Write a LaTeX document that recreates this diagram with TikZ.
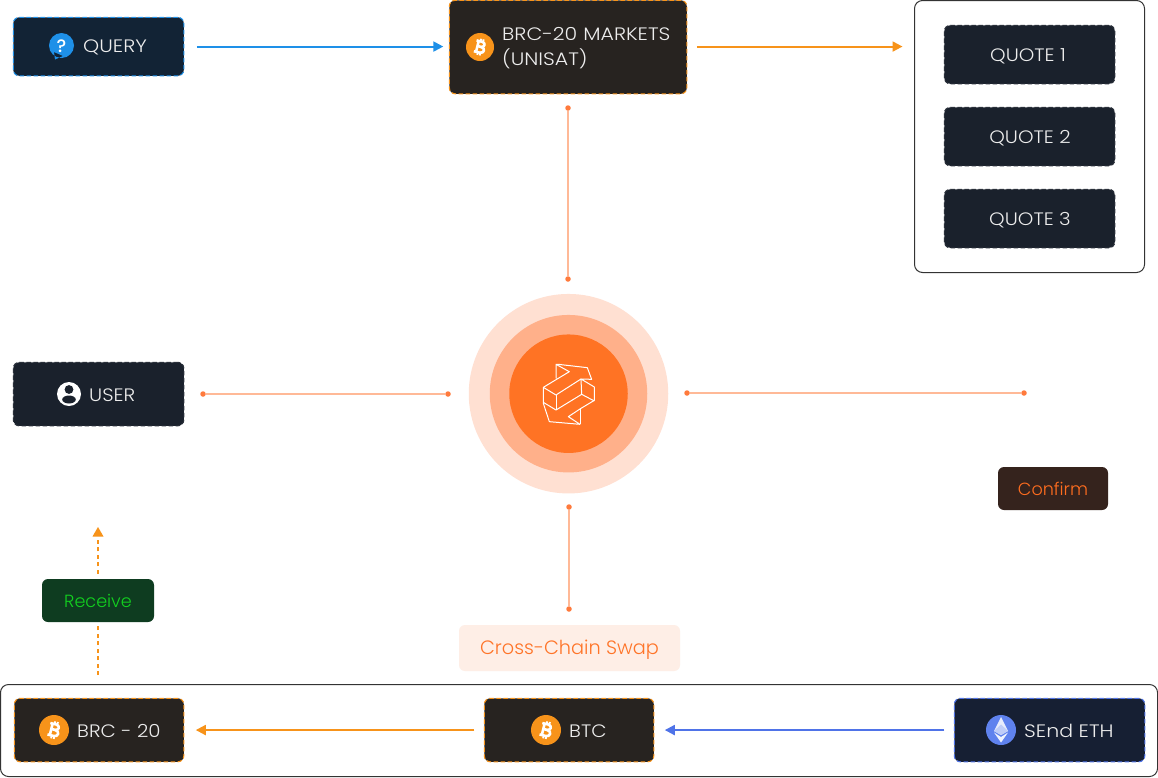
\documentclass[tikz,border=0pt]{standalone}
\usepackage{fontspec}
\setmainfont{Poppins Light}
\newfontfamily\widefont[FakeStretch=1.1]{Poppins Light}
\newfontfamily\widerfont[FakeStretch=1.14]{Poppins Light}
\newfontfamily\markfont{Poppins Medium}
\usetikzlibrary{arrows.meta}
\definecolor{cOrange}{HTML}{F7931A}
\definecolor{cBlue}{HTML}{1E90E8}
\definecolor{cIndigo}{HTML}{4F73E8}
\definecolor{cLine}{HTML}{FFB997}
\definecolor{cDot}{HTML}{FF7A3C}
\definecolor{cNavy}{HTML}{122335}
\definecolor{cBrown}{HTML}{272320}
\definecolor{cSlate}{HTML}{1A212C}
\definecolor{cSlateEdge}{HTML}{2A303A}
\definecolor{cInk}{HTML}{161F33}
\definecolor{cText}{HTML}{EDEDED}
\definecolor{cConfirm}{HTML}{35231D}
\definecolor{cConfirmT}{HTML}{FF6D1F}
\definecolor{cReceive}{HTML}{0E3C20}
\definecolor{cReceiveT}{HTML}{12D11F}
\definecolor{cCross}{HTML}{FEEEE6}
\definecolor{cCrossT}{HTML}{FF7428}
\definecolor{cHubA}{HTML}{FFE0D2}
\definecolor{cHubB}{HTML}{FFB08A}
\definecolor{cHubC}{HTML}{FF7324}
\definecolor{cEth}{HTML}{5F82EE}
\tikzset{
  x=1pt,y=-1pt,
  card/.style={rounded corners=6pt,inner sep=0pt,outer sep=0pt,line width=1.1pt,dash pattern=on 4.5pt off 2.5pt},
  frame/.style={draw=black!80,line width=1pt,rounded corners=8pt,fill=white,inner sep=0pt,outer sep=0pt},
  lbl/.style={text=cText,font=\widefont\fontsize{18}{22}\selectfont,inner sep=0pt,anchor=west},
  ctr/.style={font=\fontsize{17.6}{21}\selectfont,inner sep=0pt},
  badge/.style={rounded corners=6pt,inner sep=0pt},
  hub/.style={circle,inner sep=0pt,outer sep=0pt},
  dotn/.style={circle,fill=cDot,minimum size=5.5pt,inner sep=0pt,outer sep=0pt},
  link/.style={cLine,line width=1.4pt},
  arr/.style={line width=2pt,-{Triangle[length=10pt,width=10pt]}},
  dashline/.style={cOrange,line width=2pt,dash pattern=on 4pt off 3.5pt},
  btc/.style={circle,fill=cOrange,inner sep=0pt,outer sep=0pt},
  logo/.style={white,line width=1pt,line join=round},
  btcmark/.pic={
    \begin{scope}[rotate=-14,white,line width=2.6pt,line cap=butt,line join=round]
      \draw (-5.5,-6.2)--(1,-6.2) .. controls (5.4,-6.2) and (5.4,-0.4) .. (1,-0.4)--(-3,-0.4);
      \draw (1,-0.4) .. controls (6.6,-0.4) and (6.6,6.2) .. (1,6.2)--(-5.5,6.2);
      \draw (-3,-6.2)--(-3,6.2);
      \draw[line width=1.8pt] (-0.9,-9.2)--(-0.9,-6.2) (2,-9.2)--(2,-6.2) (-0.9,6.2)--(-0.9,9.2) (2,6.2)--(2,9.2);
    \end{scope}
  },
}
\begin{document}
\begin{tikzpicture}
\useasboundingbox (0,0) rectangle (1158,777);
\fill[white] (0,0) rectangle (1158,777);

% frames
\node[frame,minimum width=230pt,minimum height=272pt,anchor=north west] (quotes) at (914.5,0.5) {};
\node[frame,minimum width=1157pt,minimum height=92pt,anchor=north west] (bottom) at (0.5,684.5) {};

% cards
\node[card,fill=cNavy,draw=cBlue,minimum width=170.5pt,minimum height=58.5pt,anchor=north west] (query) at (13.3,17.3) {};
\node[card,fill=cBrown,draw=cOrange,minimum width=237.5pt,minimum height=93.5pt,anchor=north west] (brc) at (449.3,0.3) {};
\node[card,fill=cSlate,draw=cSlateEdge,minimum width=170.5pt,minimum height=58.5pt,anchor=north west] (q1) at (944.3,25.3) {};
\node[card,fill=cSlate,draw=cSlateEdge,minimum width=170.5pt,minimum height=58.5pt,anchor=north west] (q2) at (944.3,107.3) {};
\node[card,fill=cSlate,draw=cSlateEdge,minimum width=170.5pt,minimum height=58.5pt,anchor=north west] (q3) at (944.3,189.3) {};
\node[card,fill=cSlate,draw=cSlateEdge,minimum width=170.5pt,minimum height=63.5pt,anchor=north west] (user) at (13.3,362.3) {};
\node[card,fill=cBrown,draw=cOrange,minimum width=169.5pt,minimum height=63.5pt,anchor=north west] (brcb) at (14.3,698.3) {};
\node[card,fill=cBrown,draw=cOrange,minimum width=169.5pt,minimum height=63.5pt,anchor=north west] (btcb) at (484.3,698.3) {};
\node[card,fill=cInk,draw=cIndigo,minimum width=190.5pt,minimum height=63.5pt,anchor=north west] (eth) at (954.3,698.3) {};

% plain badges
\node[badge,fill=cConfirm,minimum width=110pt,minimum height=43pt,text=cConfirmT,ctr] (confirm) at (1053,488.5) {Confirm};
\node[badge,fill=cReceive,minimum width=112pt,minimum height=43pt,text=cReceiveT,ctr] (receive) at (98,600.5) {Receive};
\node[badge,fill=cCross,minimum width=221pt,minimum height=46pt] (cross) at (569.5,648) {};
\node[text=cCrossT,inner sep=0pt,font=\fontsize{19.3}{23}\selectfont] (crosst) at (569.5,650) {Cross-Chain Swap};

% hub
\node[hub,fill=cHubA,minimum size=199.5pt] (hubA) at (568.5,393.7) {};
\node[hub,fill=cHubB,minimum size=157.5pt] (hubB) at (568.5,393.7) {};
\node[hub,fill=cHubC,minimum size=118.5pt] (hubC) at (568.5,393.7) {};
\begin{scope}[shift={(500,325)},x=0.3333pt,y=-0.3333pt]
\draw[logo] (168,160)--(168,118)--(208,140)--(130,187)--(130,235)--(148,290)--(240,298)--(205,275)--(243,250)--(283,226)--(283,186)--(243,162)--(275,163)--(262,128)--(175,118)--(168,118);
\draw[logo] (130,187)--(168,210)--(243,162)--(245,208)--(168,255)--(130,232);
\draw[logo] (168,210)--(168,255);
\draw[logo] (245,208)--(283,228);
\draw[logo] (240,250)--(240,298);
\end{scope}

% icons
\fill[cBlue] (61.5,45.5) circle[radius=12.5] (54,52)--(55,59.5)--(63,56)--cycle;
\node[text=white,inner sep=0pt,font=\markfont\fontsize{18}{18}\selectfont] (qm) at (61.5,46) {?};
\node[btc,minimum size=28pt] (ib1) at (480,47) {};
\pic[scale=0.9] at (ib1) {btcmark};
\node[btc,minimum size=30pt] (ib2) at (54,730) {};
\pic[scale=0.95] at (ib2) {btcmark};
\node[btc,minimum size=30pt] (ib3) at (546,730) {};
\pic[scale=0.95] at (ib3) {btcmark};
\fill[white] (69,394) circle[radius=12];
\fill[cSlate] (69,389.5) circle[radius=4.4];
\fill[cSlate] (69,399.5) ellipse[x radius=6.8,y radius=4];
\fill[cEth] (1001,730) circle[radius=15];
\fill[white!85!cEth] (1001,717)--(1008,731)--(1001,735)--(994,731)--cycle;
\fill[white!60!cEth] (1001,724.5)--(1008,731)--(1001,735)--(994,731)--cycle;
\fill[white!90!cEth] (994,732.5)--(1001,737)--(1008,732.5)--(1001,742.5)--cycle;

% labels
\node[lbl,font=\widerfont\fontsize{18}{22}\selectfont] (tq) at (83,47.5) {QUERY};
\node[lbl,align=left,text width=180pt,font=\widerfont\fontsize{18}{25}\selectfont] (tb) at (502,48) {BRC-20 MARKETS\\(UNISAT)};
\node[lbl,anchor=center] (t1) at (1028,56) {QUOTE 1};
\node[lbl,anchor=center] (t2) at (1030,138) {QUOTE 2};
\node[lbl,anchor=center] (t3) at (1030,220) {QUOTE 3};
\node[lbl] (tu) at (89,395) {USER};
\node[lbl] (tbr) at (77,731) {BRC - 20};
\node[lbl] (tbt) at (569,731) {BTC};
\node[lbl,font=\widerfont\fontsize{18}{22}\selectfont] (tse) at (1024,731) {SEnd ETH};

% link dots
\node[dotn] (d1) at (568,108) {};
\node[dotn] (d2) at (568,279) {};
\node[dotn] (d3) at (203,394) {};
\node[dotn] (d4) at (448,394) {};
\node[dotn] (d5) at (687,393) {};
\node[dotn] (d6) at (1024,393) {};
\node[dotn] (d7) at (569,507) {};
\node[dotn] (d8) at (569,609) {};
\coordinate (rcvtip) at (98,527);
\coordinate (rcvfoot) at (98,675);

\draw[link] (d1)--(d2);
\draw[link] (d3)--(d4);
\draw[link] (d5)--(d6);
\draw[link] (d7)--(d8);

% arrows
\draw[arr,cBlue,shorten <=13pt,shorten >=6pt] (query.east)--(query.east -| brc.west);
\draw[arr,cOrange,shorten <=10pt,shorten >=12pt] (brc.east |- query.east)--(quotes.west |- query.east);
\draw[arr,cOrange,shorten <=10pt,shorten >=12pt] (btcb.west)--(brcb.east);
\draw[arr,cIndigo,shorten <=10pt,shorten >=11pt] (eth.west)--(btcb.east);
\draw[dashline,shorten >=4pt] (rcvfoot)--(receive.south);
\draw[dashline,shorten <=5pt] (receive.north)--(98,539);
\fill[cOrange] (rcvtip)--(103.5,536.5)--(92.5,536.5)--cycle;
\end{tikzpicture}
\end{document}
